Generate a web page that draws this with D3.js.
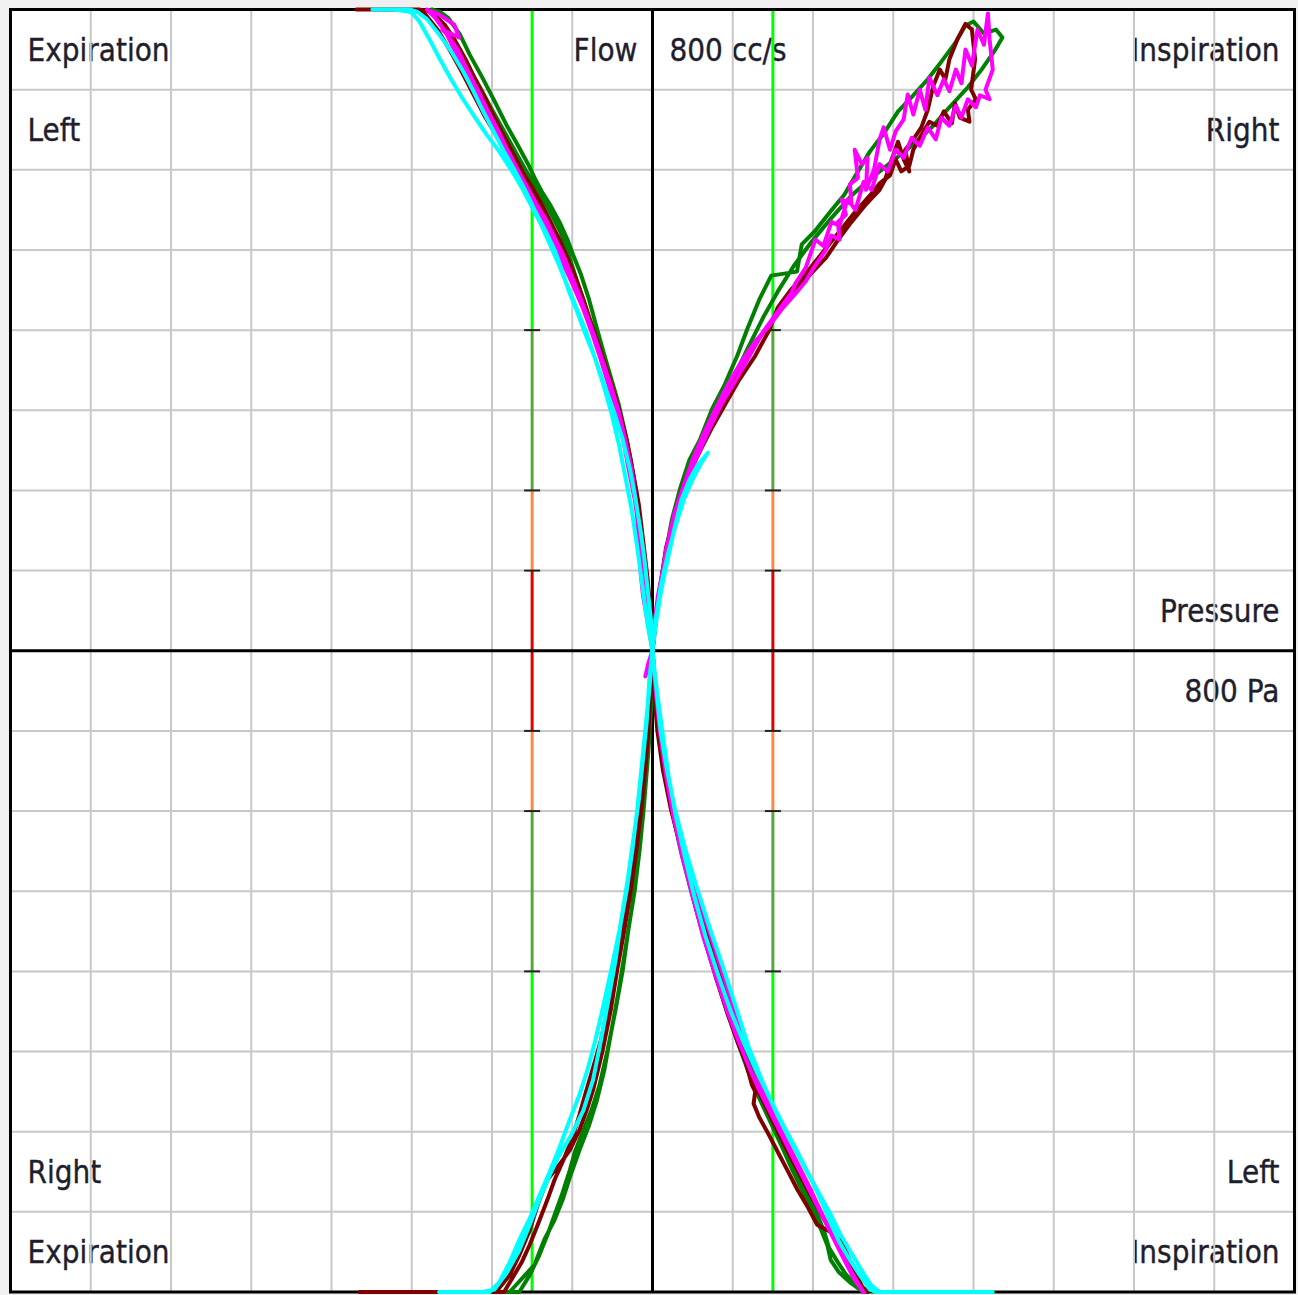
<!DOCTYPE html>
<html>
<head>
<meta charset="utf-8">
<script src="https://cdn.jsdelivr.net/npm/d3@7"></script>
<style>
  html, body { margin: 0; padding: 0; background: #f0f0f0; }
  svg { display: block; }
  .lbl { font-family: "DejaVu Sans", sans-serif; font-size: 28px; fill: #1e1e2e; stroke: #1e1e2e; stroke-width: 0.35px; }
</style>
</head>
<body>
<svg id="chart" width="1298" height="1295"></svg>
<script>
// ---- axes: pressure (Pa) horizontally, flow (cc/s) vertically ----
const pressureDomain = [-800, 800];
const flowDomain = [-800, 800];
const gridValues = d3.range(-800, 801, 100);

// reference pressure lines (±150 Pa) and the flow bands marked on them
const referencePressures = [-150, 150];
const flowBands = [
  { from: 400, to: 800, cls: "high" },
  { from: 200, to: 400, cls: "good" },
  { from: 100, to: 200, cls: "fair" },
  { from: -100, to: 100, cls: "low" },
  { from: -200, to: -100, cls: "fair" },
  { from: -400, to: -200, cls: "good" },
  { from: -800, to: -400, cls: "high" }
];
const bandTicks = [400, 200, 100, -100, -200, -400];

// quadrant captions
const topLeftLabels = ["Expiration", "Left"];
const topRightLabels = ["Inspiration", "Right"];
const bottomLeftLabels = ["Right", "Expiration"];
const bottomRightLabels = ["Left", "Inspiration"];
const flowLabels = ["Flow", "800 cc/s"];
const pressureLabels = ["Pressure", "800 Pa"];

// ---- measured loops, [pressure Pa, flow cc/s] ----
// run 1
const run1LeftExp = [[0,0],[-2,39],[-6,76],[-10,114],[-15,151],[-20,197],[-27,238],[-35,276],[-42,307],[-51,338],[-60,369],[-69,401],[-79,438],[-89,469],[-99,494],[-106,513],[-116,535],[-128,557],[-138,573],[-146,588],[-155,607],[-168,631],[-182,656],[-198,688],[-212,715],[-228,744],[-240,769],[-255,790],[-265,797],[-275,800],[-260,781],[-245,756],[-231,731],[-215,703],[-200,675],[-186,650],[-171,623],[-157,598],[-143,575],[-129,550],[-115,523],[-104,493],[-94,461],[-84,431],[-74,401],[-64,368],[-54,336],[-45,303],[-36,271],[-29,236],[-21,195],[-15,151],[-9,101],[-4,51],[0,0]];
const run1RightInsp = [[0,0],[4,39],[9,76],[15,114],[24,163],[34,201],[46,238],[59,263],[74,301],[90,332],[106,369],[118,401],[133,438],[148,468],[180,473],[186,507],[202,523],[221,547],[239,569],[253,593],[271,623],[288,645],[306,673],[325,693],[343,713],[360,735],[377,758],[390,780],[400,785],[413,770],[428,775],[436,765],[426,748],[410,725],[393,703],[370,678],[348,653],[323,630],[298,610],[273,590],[248,568],[223,540],[198,510],[176,480],[156,448],[138,416],[118,376],[99,336],[79,296],[61,258],[46,223],[31,182],[19,132],[9,76],[2,26],[0,0]];
const run1RightExp = [[0,0],[-1,-49],[-4,-99],[-7,-149],[-11,-198],[-16,-248],[-22,-298],[-30,-348],[-37,-398],[-46,-448],[-56,-498],[-66,-542],[-76,-573],[-86,-598],[-96,-623],[-103,-648],[-113,-679],[-122,-704],[-131,-729],[-141,-754],[-153,-779],[-166,-800],[-191,-800],[-178,-800],[-147,-766],[-135,-735],[-122,-710],[-112,-685],[-102,-654],[-91,-623],[-79,-592],[-69,-560],[-60,-523],[-51,-473],[-42,-423],[-34,-373],[-26,-323],[-20,-273],[-14,-223],[-9,-173],[-5,-124],[-1,-61],[0,0]];
const run1LeftInsp = [[0,0],[2,-49],[7,-99],[14,-149],[24,-198],[37,-248],[51,-298],[67,-348],[84,-398],[100,-448],[112,-485],[122,-518],[132,-545],[143,-570],[154,-598],[166,-625],[180,-653],[194,-680],[206,-705],[214,-725],[220,-745],[231,-763],[241,-778],[253,-790],[263,-800],[246,-788],[232,-775],[222,-760],[218,-742],[210,-722],[198,-698],[186,-672],[173,-645],[160,-616],[146,-586],[132,-556],[119,-524],[106,-488],[92,-448],[78,-402],[63,-353],[49,-303],[36,-253],[25,-203],[16,-153],[9,-103],[4,-53],[0,0]];

// run 2
const run2LeftExp = [[0,0],[-2,45],[-6,89],[-11,132],[-17,182],[-25,226],[-32,263],[-41,298],[-51,332],[-61,363],[-71,393],[-79,416],[-86,438],[-96,466],[-106,490],[-116,513],[-127,535],[-138,557],[-148,575],[-160,594],[-171,615],[-183,638],[-196,663],[-208,688],[-221,713],[-233,738],[-247,763],[-259,781],[-276,797],[-291,800],[-322,800],[-350,800],[-369,800],[-340,800],[-303,800],[-284,795],[-268,775],[-253,750],[-238,723],[-223,694],[-208,665],[-193,640],[-178,615],[-163,590],[-150,568],[-136,545],[-122,520],[-110,494],[-99,468],[-89,441],[-79,413],[-69,386],[-59,356],[-49,323],[-40,288],[-31,251],[-24,211],[-16,163],[-10,114],[-5,64],[0,0]];
const run2RightInsp = [[0,0],[5,45],[11,89],[19,132],[29,176],[41,213],[56,251],[71,286],[89,319],[106,351],[123,378],[141,401],[158,423],[177,448],[196,469],[216,490],[233,515],[248,535],[266,557],[283,575],[290,588],[298,613],[306,635],[313,613],[320,598],[315,625],[325,638],[335,653],[343,675],[350,705],[358,725],[365,713],[370,738],[380,763],[390,782],[398,775],[402,738],[397,700],[403,688],[393,675],[395,660],[383,665],[377,683],[373,658],[363,673],[355,655],[345,660],[335,643],[325,625],[320,605],[310,598],[303,613],[296,593],[283,583],[271,568],[253,548],[233,523],[213,498],[193,473],[173,451],[156,428],[146,401],[128,368],[108,338],[91,308],[74,278],[56,243],[41,208],[29,173],[17,129],[9,76],[2,32],[0,0]];
const run2RightExp = [[0,0],[-2,-49],[-5,-99],[-9,-149],[-14,-198],[-20,-248],[-27,-298],[-35,-348],[-44,-398],[-52,-448],[-62,-498],[-74,-548],[-82,-573],[-91,-598],[-103,-623],[-116,-641],[-131,-660],[-143,-691],[-153,-723],[-166,-754],[-178,-779],[-195,-800],[-228,-800],[-266,-800],[-316,-800],[-365,-800],[-291,-800],[-216,-800],[-185,-800],[-176,-785],[-163,-763],[-153,-741],[-143,-716],[-131,-685],[-122,-660],[-110,-633],[-99,-605],[-91,-579],[-84,-554],[-74,-520],[-64,-485],[-55,-442],[-46,-396],[-39,-348],[-31,-298],[-24,-248],[-17,-198],[-11,-149],[-6,-99],[-2,-49],[0,0]];
const run2LeftInsp = [[0,0],[2,-49],[6,-99],[13,-149],[23,-198],[36,-248],[50,-298],[66,-348],[82,-398],[97,-448],[110,-492],[118,-520],[124,-542],[128,-550],[126,-565],[133,-582],[144,-602],[156,-625],[168,-648],[181,-673],[194,-695],[205,-716],[222,-725],[236,-738],[243,-754],[253,-775],[263,-797],[268,-800],[258,-790],[248,-772],[238,-754],[228,-735],[216,-713],[203,-690],[191,-668],[178,-643],[165,-618],[153,-593],[141,-568],[129,-543],[118,-518],[106,-488],[93,-451],[80,-411],[67,-367],[54,-321],[42,-271],[30,-221],[20,-171],[12,-121],[6,-71],[2,-30],[0,0]];

// run 3
const run3LeftExp = [[0,0],[-5,30],[-12,70],[-15,100],[-17,132],[-20,182],[-26,226],[-34,263],[-42,298],[-52,331],[-62,361],[-72,391],[-81,416],[-91,443],[-101,468],[-111,493],[-122,515],[-133,538],[-145,558],[-156,578],[-168,600],[-181,625],[-193,650],[-206,675],[-218,700],[-231,725],[-243,750],[-256,769],[-262,775],[-241,765],[-247,781],[-266,794],[-281,800],[-271,790],[-258,772],[-246,748],[-233,723],[-221,698],[-208,673],[-196,648],[-183,623],[-171,598],[-158,575],[-146,553],[-133,530],[-121,505],[-110,480],[-99,456],[-87,428],[-76,398],[-66,368],[-56,336],[-46,301],[-37,266],[-30,228],[-22,188],[-16,145],[-10,101],[-5,54],[-1,14],[0,0]];
const run3RightInsp = [[0,0],[4,39],[10,82],[17,126],[27,170],[39,207],[51,241],[65,273],[79,303],[94,332],[111,361],[128,386],[146,406],[161,426],[176,443],[191,461],[201,478],[216,500],[223,518],[233,513],[231,535],[241,544],[236,563],[248,557],[246,582],[256,590],[252,625],[261,607],[268,615],[266,575],[276,600],[283,638],[288,653],[296,625],[303,648],[313,663],[318,694],[325,669],[333,700],[340,675],[345,715],[355,693],[363,713],[370,698],[378,725],[385,708],[390,750],[398,730],[405,775],[413,756],[418,795],[420,763],[424,725],[415,700],[420,688],[408,693],[403,678],[393,688],[385,665],[378,680],[370,655],[360,665],[353,638],[343,653],[333,630],[323,640],[313,615],[303,625],[293,598],[283,607],[273,575],[263,585],[253,550],[243,563],[233,530],[223,535],[213,505],[203,513],[191,478],[178,458],[173,446],[156,423],[138,398],[121,368],[104,338],[86,308],[69,273],[54,238],[39,201],[26,158],[16,116],[7,70],[1,26],[0,0]];
const run3RightExp = [[0,0],[-5,-20],[-9,-32],[-5,-15],[0,0]];
const run3LeftInsp = [[0,0],[4,-49],[9,-99],[16,-149],[26,-198],[39,-248],[54,-298],[70,-348],[86,-398],[102,-448],[118,-495],[135,-540],[152,-580],[166,-610],[181,-640],[196,-670],[210,-700],[224,-728],[236,-752],[248,-775],[257,-791],[263,-800],[252,-785],[240,-762],[228,-738],[215,-712],[202,-686],[188,-658],[174,-630],[160,-602],[146,-574],[132,-546],[119,-516],[106,-484],[92,-446],[78,-403],[63,-356],[50,-306],[37,-256],[26,-206],[17,-156],[10,-106],[5,-61],[0,0]];

// run 4
const run4LeftExp = [[0,0],[-2,39],[-6,76],[-10,114],[-15,151],[-21,188],[-28,226],[-37,263],[-48,298],[-60,332],[-72,366],[-84,396],[-95,426],[-104,448],[-113,475],[-121,498],[-133,523],[-146,548],[-158,573],[-171,598],[-185,623],[-198,648],[-211,673],[-223,698],[-236,723],[-251,748],[-266,769],[-281,788],[-293,797],[-303,800],[-328,800],[-349,800],[-322,800],[-301,797],[-291,786],[-278,763],[-266,740],[-251,713],[-236,688],[-221,665],[-206,643],[-191,623],[-176,600],[-163,578],[-151,555],[-138,530],[-127,505],[-116,480],[-105,453],[-94,426],[-82,396],[-71,363],[-61,331],[-51,296],[-42,258],[-34,218],[-26,176],[-19,129],[-12,76],[-6,32],[0,0]];
const run4RightInsp = [[0,0],[5,39],[11,76],[19,114],[27,151],[36,188],[46,213],[56,231],[69,247],[62,236],[51,216],[40,191],[29,157],[19,120],[10,79],[4,39],[0,0]];
const run4RightExp = [[0,0],[-4,-36],[-7,-86],[-12,-136],[-17,-186],[-24,-236],[-31,-286],[-39,-336],[-46,-386],[-55,-436],[-64,-485],[-74,-535],[-86,-573],[-101,-604],[-116,-629],[-128,-654],[-141,-685],[-153,-716],[-166,-748],[-181,-775],[-197,-797],[-212,-800],[-241,-800],[-266,-800],[-228,-800],[-203,-800],[-191,-788],[-178,-763],[-166,-735],[-153,-708],[-141,-680],[-128,-650],[-116,-620],[-103,-585],[-91,-554],[-81,-523],[-71,-485],[-61,-442],[-51,-396],[-41,-348],[-32,-298],[-25,-248],[-19,-198],[-14,-149],[-9,-99],[-4,-49],[0,0]];
const run4LeftInsp = [[0,0],[5,-49],[10,-99],[18,-149],[28,-198],[41,-248],[56,-298],[72,-348],[89,-398],[105,-448],[120,-495],[138,-540],[156,-580],[170,-608],[185,-636],[200,-664],[212,-690],[222,-714],[233,-738],[246,-760],[259,-780],[271,-797],[278,-800],[333,-800],[383,-800],[424,-800],[370,-800],[283,-800],[272,-791],[260,-772],[247,-750],[234,-728],[222,-703],[208,-678],[193,-650],[178,-620],[162,-590],[146,-558],[130,-525],[114,-490],[98,-451],[82,-405],[66,-356],[52,-306],[40,-256],[29,-206],[20,-156],[13,-106],[7,-61],[3,-30],[0,0]];

const runs = [
  { name: "Run 1", loops: [run1LeftExp, run1RightInsp, run1RightExp, run1LeftInsp] },
  { name: "Run 2", loops: [run2LeftExp, run2RightInsp, run2RightExp, run2LeftInsp] },
  { name: "Run 3", loops: [run3LeftExp, run3RightInsp, run3RightExp, run3LeftInsp] },
  { name: "Run 4", loops: [run4LeftExp, run4RightInsp, run4RightExp, run4LeftInsp] }
];

// ---- styles ----
const runColors = ["#008000", "#800000", "#ff00ff", "#00ffff"];
const bandColors = { high: "#00ff00", good: "#55a83c", fair: "#ff8844", low: "#e40000" };

// ---- layout ----
const svg = d3.select("#chart");
const plotLeft = 10.5, plotRight = 1294.5, plotTop = 9.5, plotBottom = 1292;

const x = d3.scaleLinear().domain(pressureDomain).range([plotLeft, plotRight]).clamp(true);
const y = d3.scaleLinear().domain(flowDomain).range([plotBottom, plotTop]).clamp(true);

svg.append("rect")
  .attr("x", plotLeft).attr("y", plotTop)
  .attr("width", plotRight - plotLeft).attr("height", plotBottom - plotTop)
  .attr("fill", "#ffffff");

// captions
const capScale = 1.12;
const capHalf = 0.73 * 28 * capScale / 2;
function caption(text, px, rowCenterY, anchor) {
  svg.append("text")
    .attr("class", "lbl")
    .attr("text-anchor", anchor)
    .attr("transform", `translate(${px},${rowCenterY + capHalf}) scale(1,${capScale})`)
    .text(text);
}
const rowMid = (f) => (y(f) + y(f - 100)) / 2;   // centre of the grid row below flow f
const padL = x(-800) + 17, padR = x(800) - 15;

topLeftLabels.forEach((t, i) => caption(t, padL, rowMid(800 - i * 100), "start"));
topRightLabels.forEach((t, i) => caption(t, padR, rowMid(800 - i * 100), "end"));
bottomLeftLabels.forEach((t, i) => caption(t, padL, rowMid(-600 - i * 100), "start"));
bottomRightLabels.forEach((t, i) => caption(t, padR, rowMid(-600 - i * 100), "end"));
caption(flowLabels[0], x(0) - 15, rowMid(800), "end");
caption(flowLabels[1], x(0) + 17, rowMid(800), "start");
pressureLabels.forEach((t, i) => caption(t, padR, rowMid(100 - i * 100), "end"));

// grid
const grid = svg.append("g").attr("stroke", "#c8c8c8").attr("stroke-width", 2);
grid.selectAll("line.v").data(gridValues).join("line")
  .attr("class", "v")
  .attr("x1", d => x(d)).attr("x2", d => x(d))
  .attr("y1", y(800)).attr("y2", y(-800));
grid.selectAll("line.h").data(gridValues).join("line")
  .attr("class", "h")
  .attr("y1", d => y(d)).attr("y2", d => y(d))
  .attr("x1", x(-800)).attr("x2", x(800));

// reference pressure lines with flow bands
const refs = svg.append("g");
referencePressures.forEach(p => {
  refs.append("g").selectAll("line").data(flowBands).join("line")
    .attr("x1", x(p)).attr("x2", x(p))
    .attr("y1", d => y(d.from)).attr("y2", d => y(d.to))
    .attr("stroke", d => bandColors[d.cls])
    .attr("stroke-width", 3);
  refs.append("g").selectAll("line").data(bandTicks).join("line")
    .attr("x1", x(p) - 8).attr("x2", x(p) + 8)
    .attr("y1", d => y(d)).attr("y2", d => y(d))
    .attr("stroke", "#222").attr("stroke-width", 2);
});

// zero axes
svg.append("line")
  .attr("x1", x(0)).attr("x2", x(0)).attr("y1", y(800)).attr("y2", y(-800))
  .attr("stroke", "#000").attr("stroke-width", 3);
svg.append("line")
  .attr("x1", x(-800)).attr("x2", x(800)).attr("y1", y(0)).attr("y2", y(0))
  .attr("stroke", "#000").attr("stroke-width", 3);

// frame
svg.append("rect")
  .attr("x", plotLeft).attr("y", plotTop)
  .attr("width", plotRight - plotLeft).attr("height", plotBottom - plotTop)
  .attr("fill", "none").attr("stroke", "#000").attr("stroke-width", 3);

// loops (drawn last, so traces clamped to the edge show on the frame)
const line = d3.line().x(d => x(d[0])).y(d => y(d[1]));
const loopsG = svg.append("g").attr("fill", "none")
  .attr("stroke-width", 4).attr("stroke-linejoin", "round").attr("stroke-linecap", "round");
runs.forEach((run, i) => {
  loopsG.append("g")
    .attr("stroke", runColors[i])
    .selectAll("path").data(run.loops).join("path")
    .attr("d", line);
});
</script>
</body>
</html>
